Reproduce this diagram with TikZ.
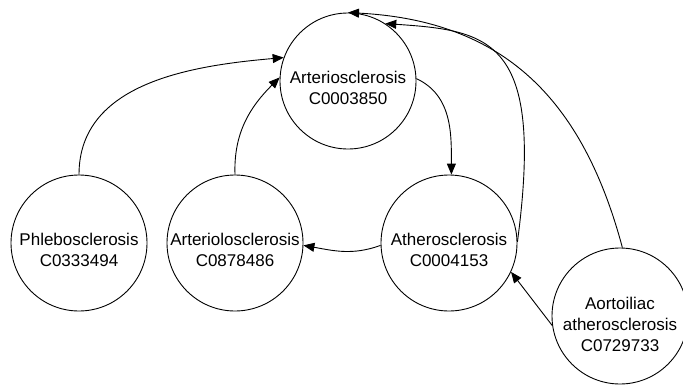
\documentclass[tikz,border=0pt]{standalone}
\usepackage{fontspec}
\setmainfont{Liberation Sans}
\usetikzlibrary{arrows.meta}
\begin{document}
\begin{tikzpicture}[x=1pt,y=1pt,
  concept/.style={circle, draw, line width=0.9pt, minimum size=136pt, inner sep=0pt},
  lbl/.style={align=center, font=\fontsize{17}{21}\selectfont, inner sep=0pt},
  link/.style={line width=0.9pt, -{Triangle[length=11pt,width=9pt]}}]
\useasboundingbox (0,0) rectangle (683,384);
\node[concept] (art) at (348,303) {};
\node[concept] (phl) at (79,141) {};
\node[concept] (arl) at (235,141) {};
\node[concept] (ath) at (449,141) {};
\node[concept] (aor) at (620,68) {};
\node[lbl] (artT) at ([yshift=-7pt]art.center) {Arteriosclerosis\\C0003850};
\node[lbl] (phlT) at ([yshift=-7pt]phl.center) {Phlebosclerosis\\C0333494};
\node[lbl] (arlT) at ([yshift=-7pt]arl.center) {Arteriolosclerosis\\C0878486};
\node[lbl] (athT) at ([yshift=-7pt]ath.center) {Atherosclerosis\\C0004153};
\node[lbl] (aorT) at ([yshift=-8pt]aor.center) {Aortoiliac\\atherosclerosis\\C0729733};
\draw[link] (phl.north) to[out=90,in=185] (art.160);
\draw[link] (arl.north) to[out=92,in=225] (art.177);
\draw[link] (art.2) to[out=-25,in=90] (ath.88);
\draw[link] (ath.182) to[out=200,in=-10] (arl.-2);
\draw[link] (ath.1) .. controls +(27,203) and +(105,-7) .. (art.57);
\draw[link] (aor.88) to[out=105,in=-3,looseness=1.1] (art.90);
\draw[link] (aor.188) -- (ath.335);
\end{tikzpicture}
\end{document}
